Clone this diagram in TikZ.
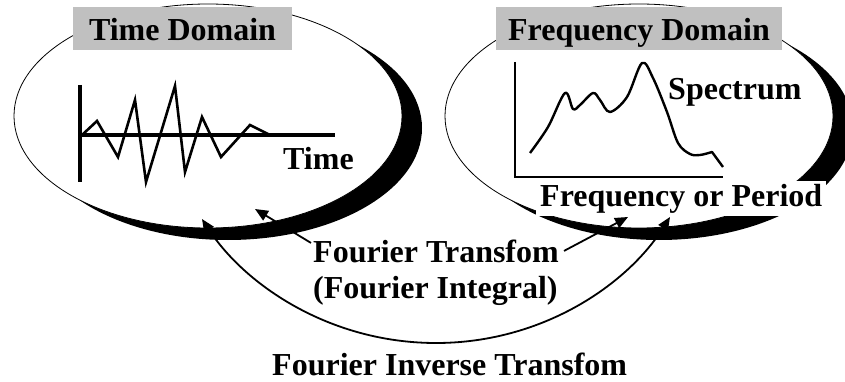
\documentclass[tikz,border=0pt]{standalone}
\usepackage{fontspec}
\setmainfont{Liberation Serif}
\usetikzlibrary{arrows.meta,calc,shapes.geometric}
\definecolor{domgray}{RGB}{192,192,192}
\begin{document}
\begin{tikzpicture}[x=1pt,y=-1pt,
  bigfont/.style={font=\fontsize{32}{36}\selectfont\bfseries},
  lbl/.style={bigfont, inner sep=0pt, anchor=base west},
  dombox/.style={bigfont, fill=domgray, inner xsep=0pt, inner ysep=7pt,
                 text height=27pt, text depth=2pt, anchor=base},
  shadowell/.style={ellipse, fill=black, minimum width=388pt, minimum height=224pt, inner sep=0pt},
  mainell/.style={ellipse, fill=white, draw=black, line width=0.8pt, minimum width=388pt, minimum height=224pt, inner sep=0pt},
  conn/.style={line width=1.8pt, -{Triangle[length=13pt,width=11pt]}},
  axisline/.style={line width=3.2pt},
  sigline/.style={line width=2.6pt, line join=miter},
]
\useasboundingbox (0,0) rectangle (845,382);

% ellipses with shadows
\node[shadowell] (lsh) at (228,128) {};
\node[shadowell] (rsh) at (659,128) {};
\node[mainell] (lell) at (208,116) {};
\node[mainell] (rell) at (639,116) {};

% time plot
\coordinate (tx0) at (80,85);
\coordinate (tx1) at (80,182);
\coordinate (ty0) at (80,135);
\coordinate (ty1) at (335,135);
\draw[axisline] (tx0) -- (tx1);
\draw[axisline] (ty0) -- (ty1);
\draw[sigline] (82,135) -- (97,121) -- (118,157) -- (135,100) -- (146,182) -- (175,86)
  -- (185,172) -- (202,117) -- (221,157) -- (250,125) -- (270,135);
\node[lbl] (time) at (283,170) {Time};

% spectrum plot
\coordinate (sx0) at (515,62);
\coordinate (sx1) at (515,177);
\coordinate (sy1) at (723,177);
\draw[line width=2.2pt] (sx0) -- (sx1) -- (sy1);
\draw[line width=2.4pt, line join=round] plot[smooth, tension=0.55] coordinates {
  (530,153) (548,127) (565,93) (573,109) (580,105) (593,93) (600,100) (610,112)
  (627,97) (642,63) (653,78) (667,112) (678,143) (690,154) (700,155) (712,152)}
  -- (723,167);
\node[lbl] (spec) at (668,100) {Spectrum};

% domain titles
\node[dombox, minimum width=219pt] (tdom) at (182.5,41) {Time Domain};
\node[dombox, minimum width=286pt] (fdom) at (639,41) {Frequency Domain};

% frequency label with white backing
\node[lbl, fill=white, inner xsep=4pt, inner ysep=3pt] (freq) at (536,206) {Frequency or Period};

% transform labels
\node[lbl] (ft) at (313,262) {Fourier Transfom};
\node[lbl] (fi) at (313,298) {(Fourier Integral)};
\node[lbl] (finv) at (272,375) {Fourier Inverse Transfom};

% arrow targets
\coordinate (t1) at (255,209);
\coordinate (t2) at (628,217);
\coordinate (a1) at (202,219);
\coordinate (a2) at (670,217);
\coordinate (abot) at (436,343);

\draw[conn] ($(ft.west)+(-2,-8)$) -- (t1);
\draw[conn] ($(ft.east)+(5,0)$) -- (t2);
\draw[line width=1.8pt, {Triangle[length=13pt,width=11pt]}-{Triangle[length=13pt,width=11pt]}]
  (a1) .. controls (245,285) and (330,343) .. (abot)
       .. controls (542,343) and (627,285) .. (a2);
\end{tikzpicture}
\end{document}
